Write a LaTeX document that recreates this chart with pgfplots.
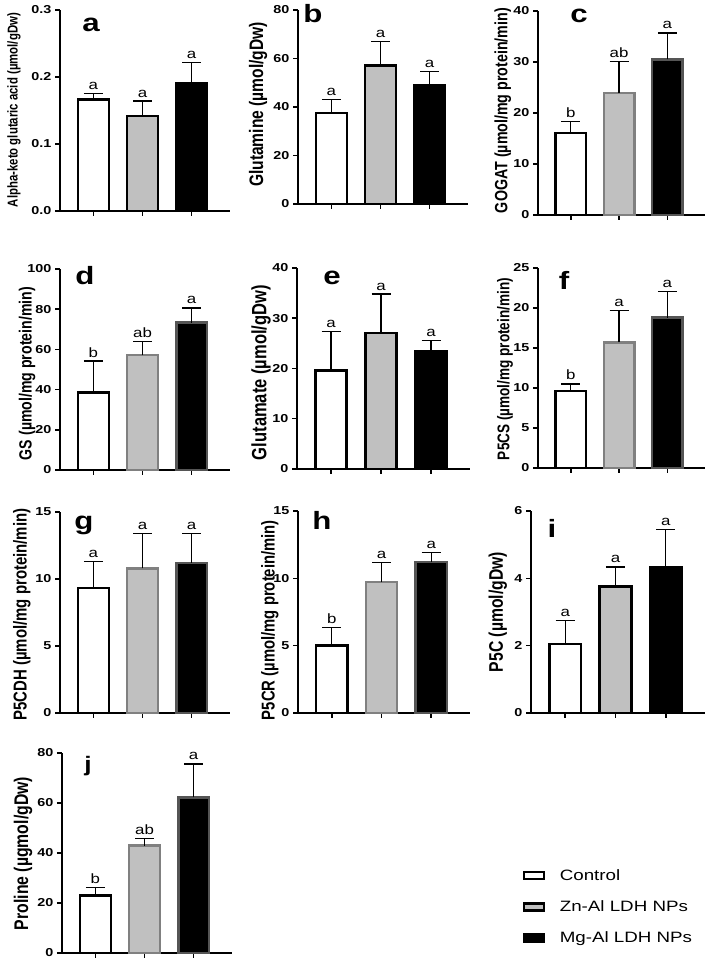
\documentclass[border=0pt]{standalone}
\usepackage{fontspec}
\setmainfont{Liberation Sans}
\newfontfamily\sx[FakeStretch=1.25]{Liberation Sans}
\usepackage{graphicx}
\usepackage{pgfplots}
\pgfplotsset{compat=1.18}
\definecolor{znfill}{RGB}{192,192,192}
\definecolor{brdA}{RGB}{128,128,128}
\definecolor{brdB}{RGB}{85,85,85}
\newcommand{\yl}[2]{\scalebox{1}[1.25]{\resizebox{#1}{!}{\bfseries #2}}}
\tikzset{sig/.style={anchor=base, yshift=4pt, font=\sx\fontsize{13.5}{13.5}\selectfont, inner sep=0pt},
  plet/.style={anchor=base, font=\sx\bfseries\fontsize{25}{25}\selectfont, inner sep=0pt}}
\pgfplotsset{
 panel/.style={scale only axis, width=170pt, anchor=south west, clip=false,
   axis x line*=bottom, axis y line*=left, xmin=-0.68, xmax=2.78, ymin=0,
   xtick={0,1,2}, xticklabels={}, tick align=outside, major tick length=5pt,
   axis line style={line width=1.5pt, black},
   tick style={line width=1.5pt, black},
   tick label style={font=\sx\bfseries\fontsize{11.5}{13}\selectfont},
   /pgf/number format/assume math mode=true,
   ybar, bar width=0.63, bar shift=0pt,
   error bars/y dir=plus, error bars/y explicit,
   error bars/error bar style={line width=1.3pt, black},
   error bars/error mark options={rotate=90, mark size=9.5pt, line width=1.3pt, black},
 },
 ylpos/.style 2 args={ylabel style={at={(axis description cs:#1,#2)}, anchor=center}},
 ctrl/.style={draw=black, fill=white, line width=2.6pt},
 zn/.style={draw=#1, fill=znfill, line width=2.6pt},
 mg/.style={draw=#1, fill=black, line width=2.6pt},
 legctrl/.style={legend image code/.code={\draw[draw=black, fill=white, line width=2.6pt] (0pt,-3.5pt) rectangle (20pt,3.5pt); \path[draw=none, fill=none] (0pt,0pt) rectangle (34pt,0.1pt);}},
 legzn/.style={legend image code/.code={\draw[draw=black, fill=znfill, line width=2.6pt] (0pt,-3.5pt) rectangle (20pt,3.5pt); \path[draw=none, fill=none] (0pt,0pt) rectangle (34pt,0.1pt);}},
 legmg/.style={legend image code/.code={\draw[draw=black, fill=black, line width=2.6pt] (0pt,-3.5pt) rectangle (20pt,3.5pt); \path[draw=none, fill=none] (0pt,0pt) rectangle (34pt,0.1pt);}},
}
\begin{document}
\begin{tikzpicture}
\useasboundingbox (0,0) rectangle (709pt,964pt);
% ---------- a ----------
\begin{axis}[panel, at={(60pt,753pt)}, height=201pt, ymax=0.3, ytick={0,0.1,0.2,0.3},
  yticklabel style={/pgf/number format/.cd, fixed, fixed zerofill, precision=1},
  ylpos={-0.271}{0.502},
  ylabel={\yl{194pt}{Alpha-keto glutaric acid (µmol/gDw)}}]
\addplot[ctrl] coordinates {(0,0.166) +- (0,0.009)};
\addplot[zn=black] coordinates {(1,0.142) +- (0,0.022)};
\addplot[mg=black] coordinates {(2,0.191) +- (0,0.031)};
\node[sig] at (axis cs:0,0.175) {a};
\node[sig] at (axis cs:1,0.164) {a};
\node[sig] at (axis cs:2,0.222) {a};
\end{axis}
% ---------- b ----------
\begin{axis}[panel, at={(298pt,760pt)}, height=194pt, ymax=80, ytick={0,20,40,60,80},
  ylpos={-0.235}{0.513},
  ylabel={\yl{165pt}{Glutamine (µmol/gDw)}}]
\addplot[ctrl] coordinates {(0,37.6) +- (0,5.5)};
\addplot[zn=black] coordinates {(1,57.1) +- (0,9.9)};
\addplot[mg=black] coordinates {(2,49.1) +- (0,5.5)};
\node[sig] at (axis cs:0,43.1) {a};
\node[sig] at (axis cs:1,67.0) {a};
\node[sig] at (axis cs:2,54.6) {a};
\end{axis}
% ---------- c ----------
\begin{axis}[panel, at={(538pt,749pt)}, width=167pt, height=204pt, ymax=40, ytick={0,10,20,30,40},
  ylpos={-0.210}{0.512},
  ylabel={\yl{205pt}{GOGAT (µmol/mg protein/min)}}]
\addplot[ctrl] coordinates {(0,16.1) +- (0,2.2)};
\addplot[zn=brdA] coordinates {(1,23.9) +- (0,6.2)};
\addplot[mg=brdB] coordinates {(2,30.5) +- (0,5.2)};
\node[sig] at (axis cs:0,18.3) {b};
\node[sig] at (axis cs:1,30.1) {ab};
\node[sig] at (axis cs:2,35.7) {a};
\end{axis}
% ---------- d ----------
\begin{axis}[panel, at={(60pt,494pt)}, height=201pt, ymax=100, ytick={0,20,40,60,80,100},
  ylpos={-0.194}{0.48},
  ylabel={\yl{173pt}{GS (µmol/mg protein/min)}}]
\addplot[ctrl] coordinates {(0,38.5) +- (0,15.7)};
\addplot[zn=brdA] coordinates {(1,57.2) +- (0,6.6)};
\addplot[mg=brdB] coordinates {(2,73.3) +- (0,7.3)};
\node[sig] at (axis cs:0,54.2) {b};
\node[sig] at (axis cs:1,63.8) {ab};
\node[sig] at (axis cs:2,80.6) {a};
\end{axis}
% ---------- e ----------
\begin{axis}[panel, at={(297pt,495pt)}, width=173pt, height=201pt, ymax=40, ytick={0,10,20,30,40},
  ylpos={-0.208}{0.48},
  ylabel={\yl{175pt}{Glutamate (µmol/gDw)}}]
\addplot[ctrl] coordinates {(0,19.6) +- (0,7.7)};
\addplot[zn=black] coordinates {(1,27.1) +- (0,7.7)};
\addplot[mg=black] coordinates {(2,23.5) +- (0,2.1)};
\node[sig] at (axis cs:0,27.3) {a};
\node[sig] at (axis cs:1,34.8) {a};
\node[sig] at (axis cs:2,25.6) {a};
\end{axis}
% ---------- f ----------
\begin{axis}[panel, at={(538pt,496pt)}, width=167pt, height=200pt, ymax=25, ytick={0,5,10,15,20,25},
  ylpos={-0.198}{0.495},
  ylabel={\yl{182pt}{P5CS (µmol/mg protein/min)}}]
\addplot[ctrl] coordinates {(0,9.6) +- (0,0.9)};
\addplot[zn=brdA] coordinates {(1,15.7) +- (0,4.0)};
\addplot[mg=brdB] coordinates {(2,18.8) +- (0,3.3)};
\node[sig] at (axis cs:0,10.5) {b};
\node[sig] at (axis cs:1,19.7) {a};
\node[sig] at (axis cs:2,22.1) {a};
\end{axis}
% ---------- g ----------
\begin{axis}[panel, at={(60pt,251pt)}, height=201pt, ymax=15, ytick={0,5,10,15},
  ylpos={-0.224}{0.49},
  ylabel={\yl{212pt}{P5CDH (µmol/mg protein/min)}}]
\addplot[ctrl] coordinates {(0,9.33) +- (0,2.0)};
\addplot[zn=brdA] coordinates {(1,10.8) +- (0,2.6)};
\addplot[mg=brdB] coordinates {(2,11.2) +- (0,2.2)};
\node[sig] at (axis cs:0,11.33) {a};
\node[sig] at (axis cs:1,13.4) {a};
\node[sig] at (axis cs:2,13.4) {a};
\end{axis}
% ---------- h ----------
\begin{axis}[panel, at={(298pt,251pt)}, width=172pt, height=202pt, ymax=15, ytick={0,5,10,15},
  ylpos={-0.163}{0.46},
  ylabel={\yl{200pt}{P5CR (µmol/mg protein/min)}}]
\addplot[ctrl] coordinates {(0,5.03) +- (0,1.32)};
\addplot[zn=brdA] coordinates {(1,9.72) +- (0,1.44)};
\addplot[mg=brdB] coordinates {(2,11.2) +- (0,0.7)};
\node[sig] at (axis cs:0,6.35) {b};
\node[sig] at (axis cs:1,11.16) {a};
\node[sig] at (axis cs:2,11.9) {a};
\end{axis}
% ---------- i ----------
\begin{axis}[panel, at={(531pt,251pt)}, width=174pt, height=202pt, ymax=6, ytick={0,2,4,6},
  ylpos={-0.190}{0.5},
  ylabel={\yl{120pt}{P5C (µmol/gDw)}}]
\addplot[ctrl] coordinates {(0,2.05) +- (0,0.70)};
\addplot[zn=black] coordinates {(1,3.75) +- (0,0.59)};
\addplot[mg=black] coordinates {(2,4.34) +- (0,1.12)};
\node[sig] at (axis cs:0,2.75) {a};
\node[sig] at (axis cs:1,4.34) {a};
\node[sig] at (axis cs:2,5.46) {a};
\end{axis}
% ---------- j ----------
\begin{axis}[panel, at={(62pt,11pt)}, height=200pt, ymax=80, ytick={0,20,40,60,80},
  ylpos={-0.229}{0.4975},
  ylabel={\yl{153pt}{Proline (µgmol/gDw)}},
  legend style={at={(2.69,0.44)}, anchor=north west, draw=none, fill=none,
    font=\sx\fontsize{15}{17}\selectfont, row sep=15pt},
  legend cell align=left]
\addplot[ctrl, forget plot] coordinates {(0,22.9) +- (0,3.4)};
\addplot[zn=brdA, forget plot] coordinates {(1,42.9) +- (0,2.8)};
\addplot[mg=brdB, forget plot] coordinates {(2,62.2) +- (0,13.4)};
\node[sig] at (axis cs:0,26.3) {b};
\node[sig] at (axis cs:1,45.7) {ab};
\node[sig] at (axis cs:2,75.6) {a};
\addlegendimage{legctrl}\addlegendentry{Control}
\addlegendimage{legzn}\addlegendentry{Zn-Al LDH NPs}
\addlegendimage{legmg}\addlegendentry{Mg-Al LDH NPs}
\end{axis}
% ---------- panel letters ----------
\node[plet] at (91pt,932pt) {a};
\node[plet] at (313pt,941pt) {b};
\node[plet] at (579pt,941pt) {c};
\node[plet] at (85pt,679pt) {d};
\node[plet] at (332pt,679pt) {e};
\node[plet] at (564pt,674pt) {f};
\node[plet] at (84pt,434pt) {g};
\node[plet] at (322pt,434pt) {h};
\node[plet] at (552pt,426pt) {i};
\node[plet, font=\sx\bfseries\fontsize{21}{21}\selectfont] at (88pt,192pt) {j};
\end{tikzpicture}
\end{document}
